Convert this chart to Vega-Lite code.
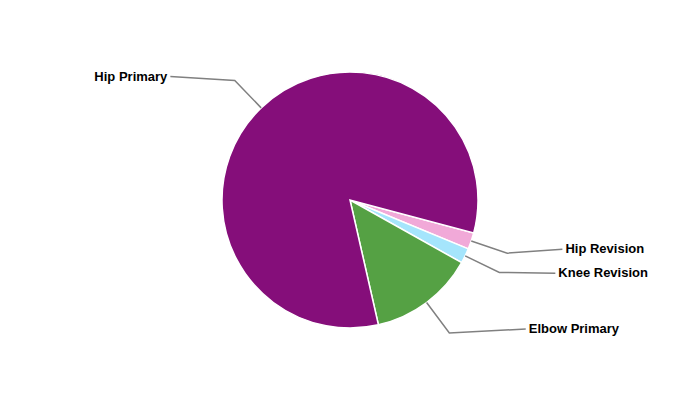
{
  "$schema": "https://vega.github.io/schema/vega-lite/v6.json",
  "width": 700,
  "height": 400,
  "padding": 0,
  "autosize": {"type": "fit", "contains": "padding"},
  "background": "white",
  "config": {"view": {"stroke": null}},
  "data": {
    "values": [
      {"category": "Hip Revision", "value": 2.1, "ord": 1},
      {"category": "Knee Revision", "value": 1.9, "ord": 2},
      {"category": "Elbow Primary", "value": 13.3, "ord": 3},
      {"category": "Hip Primary", "value": 82.7, "ord": 4}
    ]
  },
  "transform": [
    {"window": [{"op": "sum", "field": "value", "as": "cum"}], "sort": [{"field": "ord", "order": "ascending"}], "frame": [null, 0]},
    {"joinaggregate": [{"op": "sum", "field": "value", "as": "total"}]},
    {"calculate": "1.83085 + 2*PI*(datum.cum - datum.value/2)/datum.total", "as": "mid"},
    {"calculate": "128*sin(datum.mid)", "as": "ex"},
    {"calculate": "128*cos(datum.mid)", "as": "ey"},
    {"calculate": "166*sin(datum.mid)", "as": "bx"},
    {"calculate": "166*cos(datum.mid)", "as": "by"},
    {"calculate": "sin(datum.mid) > 0 ? 1 : -1", "as": "side"},
    {"calculate": "datum.by + 4", "as": "ly0"},
    {"window": [{"op": "lag", "field": "ly0", "as": "prevly"}], "groupby": ["side"], "sort": [{"field": "ly0", "order": "descending"}]},
    {"calculate": "isValid(datum.prevly) ? min(datum.ly0, datum.prevly - 24) : datum.ly0", "as": "ly"},
    {"calculate": "datum.side*sqrt(218*218 - datum.ly*datum.ly)", "as": "lx"},
    {"calculate": "datum.lx + 3*datum.side", "as": "tx"}
  ],
  "layer": [
    {
      "mark": {"type": "arc", "outerRadius": 128, "stroke": "white", "strokeWidth": 1.5},
      "encoding": {
        "theta": {"field": "value", "type": "quantitative", "stack": true, "scale": {"range": [1.83085, 8.11404]}},
        "order": {"field": "ord", "type": "quantitative"},
        "color": {
          "field": "category", "type": "nominal", "legend": null,
          "scale": {"domain": ["Hip Primary", "Elbow Primary", "Hip Revision", "Knee Revision"], "range": ["#850e7a", "#55a144", "#f1a9d8", "#a5e5fc"]}
        }
      }
    },
    {
      "transform": [
        {"fold": ["ex", "bx", "lx"], "as": ["pt", "px"]},
        {"calculate": "datum.pt == 'ex' ? datum.ey : (datum.pt == 'bx' ? datum.by : datum.ly)", "as": "py"},
        {"calculate": "datum.pt == 'ex' ? 0 : (datum.pt == 'bx' ? 1 : 2)", "as": "pi"}
      ],
      "mark": {"type": "line", "color": "#808080", "strokeWidth": 1.5},
      "encoding": {
        "x": {"field": "px", "type": "quantitative", "axis": null, "scale": {"domain": [-350, 350], "nice": false, "zero": false}},
        "y": {"field": "py", "type": "quantitative", "axis": null, "scale": {"domain": [-200, 200], "nice": false, "zero": false}},
        "detail": {"field": "category"},
        "order": {"field": "pi", "type": "quantitative"}
      }
    },
    {
      "transform": [{"filter": "datum.side > 0"}],
      "mark": {"type": "text", "align": "left", "baseline": "middle", "font": "Liberation Sans", "fontWeight": "bold", "fontSize": 13, "color": "#000000"},
      "encoding": {
        "x": {"field": "tx", "type": "quantitative", "axis": null, "scale": {"domain": [-350, 350], "nice": false, "zero": false}},
        "y": {"field": "ly", "type": "quantitative", "axis": null, "scale": {"domain": [-200, 200], "nice": false, "zero": false}},
        "text": {"field": "category"}
      }
    },
    {
      "transform": [{"filter": "datum.side < 0"}],
      "mark": {"type": "text", "align": "right", "baseline": "middle", "font": "Liberation Sans", "fontWeight": "bold", "fontSize": 13, "color": "#000000"},
      "encoding": {
        "x": {"field": "tx", "type": "quantitative", "axis": null, "scale": {"domain": [-350, 350], "nice": false, "zero": false}},
        "y": {"field": "ly", "type": "quantitative", "axis": null, "scale": {"domain": [-200, 200], "nice": false, "zero": false}},
        "text": {"field": "category"}
      }
    }
  ]
}
